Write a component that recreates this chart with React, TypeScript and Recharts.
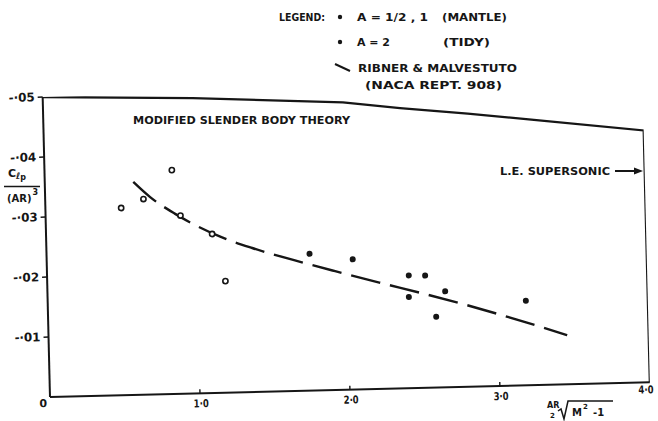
import React from 'react';
import { ComposedChart, Line, Scatter, XAxis, YAxis } from 'recharts';

// open circles: A = 1/2, 1 (Mantle)
const mantleX = [0.505, 0.655, 0.849, 0.899, 1.107, 1.188];
const mantleY = [-0.0312, -0.0326, -0.0373, -0.0297, -0.0265, -0.0186];

// filled dots: A = 2 (Tidy)
const tidyX = [1.753, 2.04, 2.411, 2.52, 2.408, 2.651, 2.587, 3.187];
const tidyY = [-0.0228, -0.0217, -0.0188, -0.0187, -0.0152, -0.016, -0.0118, -0.0141];

// Ribner & Malvestuto (dashed)
const ribnerX = [0.59, 0.7, 0.864, 1.153, 1.372, 1.649, 1.921, 2.232, 2.491, 2.742, 3.0, 3.457];
const ribnerY = [-0.0355, -0.0329, -0.03, -0.0261, -0.024, -0.0218, -0.0198, -0.0176, -0.0158, -0.014, -0.012, -0.0082];

// modified slender body theory, ending with the L.E. supersonic drop at 4
const theoryX = [0, 1, 2, 2.38, 2.83, 3.27, 4, 4];
const theoryY = [-0.05, -0.0492, -0.0479, -0.0467, -0.0455, -0.0442, -0.042, 0];

const xTicks = [0, 1, 2, 3, 4];
const xTickLabels = ['0', '1·0', '2·0', '3·0', '4·0'];
const yTicks = [-0.05, -0.04, -0.03, -0.02, -0.01];
const yTickLabels = ['-·05', '-·04', '-·03', '-·02', '-·01'];

const INK = '#161616';
const FONT = '"DejaVu Sans", "Liberation Sans", Arial, sans-serif';

const zip = (xs: number[], ys: number[]) => xs.map((x, i) => ({ x, y: ys[i] }));
const mantle = zip(mantleX, mantleY);
const tidy = zip(tidyX, tidyY);
const ribner = zip(ribnerX, ribnerY);
const theory = zip(theoryX, theoryY);

function XTick({ x, y, payload }: any) {
  const v = payload.value;
  const label = xTickLabels[xTicks.indexOf(v)];
  if (v === 0) {
    return (
      <text x={x - 7} y={y + 10} textAnchor="middle" fontSize={11} fontWeight={700} fontFamily={FONT} fill={INK}>
        {label}
      </text>
    );
  }
  return (
    <g>
      {v < 4 && <line x1={x} x2={x} y1={y} y2={y - 4} stroke={INK} strokeWidth={1.4} />}
      <text x={v === 4 ? x - 4 : x + 1} y={y + (v === 4 ? 11 : 14)} textAnchor="middle" fontSize={11}
        fontWeight={700} fontFamily={FONT} fill={INK} textLength={15} lengthAdjust="spacingAndGlyphs">
        {label}
      </text>
    </g>
  );
}

function YTick({ x, y, payload }: any) {
  const label = yTickLabels[yTicks.indexOf(payload.value)];
  return (
    <text x={x} y={y + 4} textAnchor="end" fontSize={12} fontWeight={700} fontFamily={FONT} fill={INK}
      textLength={26} lengthAdjust="spacingAndGlyphs">
      {label}
    </text>
  );
}

const openDot = (p: any) => <circle cx={p.cx} cy={p.cy} r={2.6} fill="#fff" stroke={INK} strokeWidth={1.6} />;
const solidDot = (p: any) => <circle cx={p.cx} cy={p.cy} r={3} fill={INK} />;

function T({ x, y, w, size = 10.5, children }: any) {
  return (
    <text x={x} y={y} fontSize={size} fontWeight={700} fontFamily={FONT} fill={INK}
      textLength={w} lengthAdjust="spacingAndGlyphs">
      {children}
    </text>
  );
}

export default function App() {
  return (
    <div style={{ position: 'relative', width: 658, height: 421, background: '#fff', overflow: 'hidden' }}>
      <style>{'body{margin:0;background:#fff}'}</style>
      <div style={{ position: 'absolute', left: 0, top: 0, transform: 'rotate(-1.4deg)', transformOrigin: '50px 397px' }}>
        <ComposedChart width={658} height={421} margin={{ top: 97, right: 8, bottom: 0, left: 0 }}>
          <XAxis type="number" dataKey="x" domain={[0, 4]} ticks={xTicks} height={24}
            axisLine={{ stroke: INK, strokeWidth: 2 }} tickLine={false} tickSize={0} tickMargin={0}
            tick={<XTick />} allowDataOverflow />
          <YAxis type="number" dataKey="y" domain={[-0.05, 0]} reversed ticks={yTicks} width={50}
            axisLine={{ stroke: INK, strokeWidth: 2 }} tickLine={{ stroke: INK, strokeWidth: 1.5 }}
            tickSize={5} tickMargin={3} tick={<YTick />} allowDataOverflow />
          <Line data={theory} dataKey="y" type="linear" stroke={INK} strokeWidth={2.2} dot={false}
            isAnimationActive={false} />
          <Line data={ribner} dataKey="y" type="monotone" stroke={INK} strokeWidth={2.4}
            strokeDasharray="30 10" dot={false} isAnimationActive={false} />
          <Scatter data={mantle} dataKey="y" shape={openDot} isAnimationActive={false} />
          <Scatter data={tidy} dataKey="y" shape={solidDot} isAnimationActive={false} />
        </ComposedChart>
      </div>
      <svg width={658} height={421} style={{ position: 'absolute', left: 0, top: 0, pointerEvents: 'none' }}>
        {/* legend */}
        <T x={279} y={21} w={46}>LEGEND:</T>
        <circle cx={340} cy={17} r={2.2} fill={INK} />
        <T x={357} y={21} w={71}>A = 1/2 , 1</T>
        <T x={442} y={21} w={65}>(MANTLE)</T>
        <circle cx={340} cy={42} r={2.2} fill={INK} />
        <T x={357} y={46} w={33}>A = 2</T>
        <T x={443} y={46} w={47}>(TIDY)</T>
        <line x1={335} y1={64} x2={350} y2={71} stroke={INK} strokeWidth={2} />
        <T x={358} y={72} w={159}>RIBNER &amp; MALVESTUTO</T>
        <T x={365} y={89} w={137}>(NACA REPT. 908)</T>

        {/* annotations */}
        <T x={133} y={124} w={217}>MODIFIED SLENDER BODY THEORY</T>
        <T x={500} y={175} w={110}>L.E. SUPERSONIC</T>
        <line x1={615} y1={171} x2={636} y2={171} stroke={INK} strokeWidth={2} />
        <path d="M 643 171 L 634 167.5 L 634 174.5 Z" fill={INK} />

        {/* y-axis title: C_lp / (AR)^3 */}
        <text x={8} y={177} fontSize={11} fontWeight={700} fontFamily={FONT} fill={INK}>
          C<tspan fontSize={9} dy={2}>ℓ</tspan><tspan fontSize={8} dy={1}>p</tspan>
        </text>
        <line x1={4} y1={186.5} x2={40} y2={186.5} stroke={INK} strokeWidth={1.6} />
        <text x={7} y={202} fontSize={10} fontWeight={700} fontFamily={FONT} fill={INK}>
          (AR)<tspan fontSize={8} dx={1} dy={-7}>3</tspan>
        </text>

        {/* x-axis title: AR/2 sqrt(M^2 - 1) */}
        <text x={547} y={408} fontSize={8} fontWeight={700} fontFamily={FONT} fill={INK}>AR</text>
        <text x={550} y={418} fontSize={7} fontWeight={700} fontFamily={FONT} fill={INK}>2</text>
        <path d="M 558 411 L 561 409 L 564 419 L 568 401 L 613 401" fill="none" stroke={INK} strokeWidth={1.5} />
        <text x={572} y={416} fontSize={10} fontWeight={700} fontFamily={FONT} fill={INK}>M</text>
        <text x={583} y={409} fontSize={7} fontWeight={700} fontFamily={FONT} fill={INK}>2</text>
        <text x={593} y={416} fontSize={10} fontWeight={700} fontFamily={FONT} fill={INK}>-1</text>
      </svg>
    </div>
  );
}
